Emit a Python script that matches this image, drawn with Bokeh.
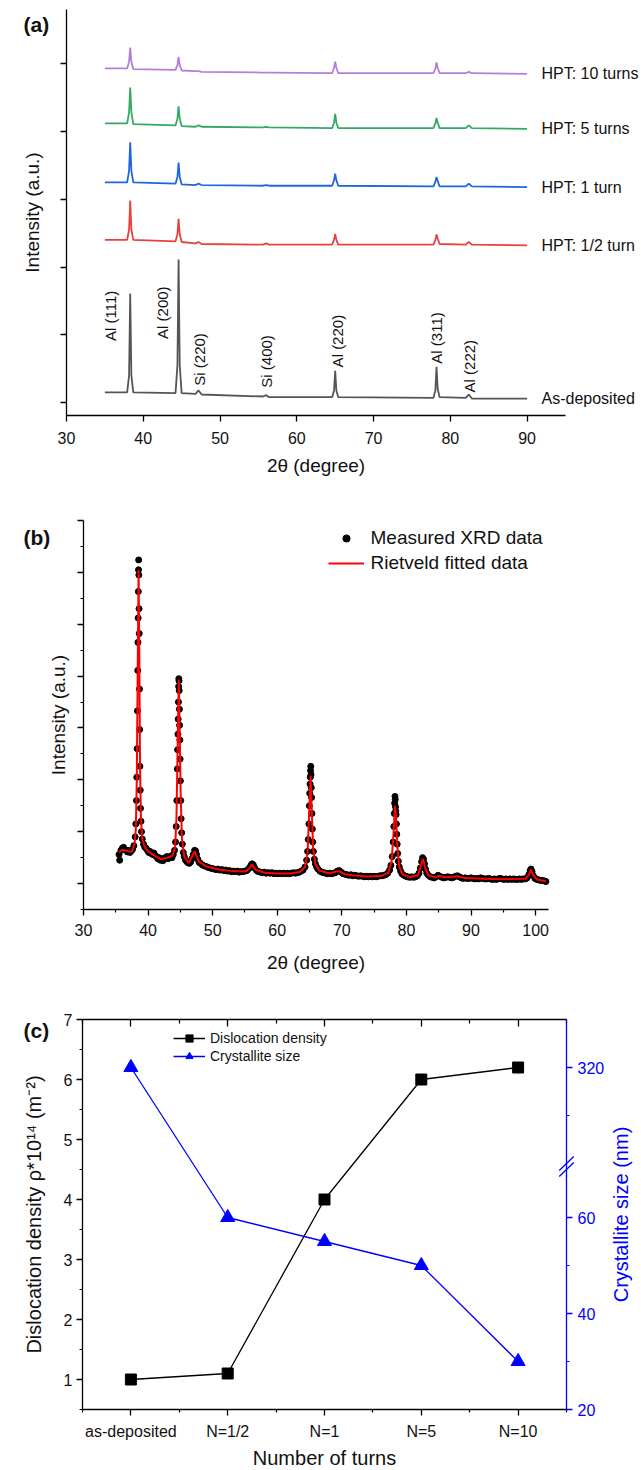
import math
from bokeh.plotting import figure
from bokeh.layouts import column
from bokeh.models import (Label, Legend, LegendItem, FixedTicker, LinearAxis,
                          Range1d, CustomJSTickFormatter, Arrow)
from bokeh.embed import file_html
from bokeh.resources import INLINE

FONT = "Liberation Sans"
TXT = "#111111"

# ------------------------------------------------------------------ (a) data
two_theta_a = [35.0, 37.9, 38.15, 38.3, 38.45, 38.7, 44.2, 44.45, 44.6, 44.75, 45.0,
               46.8, 47.2, 47.6, 55.6, 56.0, 56.4, 64.6, 64.85, 65.0, 65.15, 65.4,
               77.8, 78.05, 78.2, 78.35, 78.6, 82.0, 82.4, 82.8, 90.0]
int_as_deposited = [0.15, 0.15, 0.40, 1.61, 0.40, 0.15, 0.14, 0.55, 2.11, 0.55, 0.14,
                    0.13, 0.18, 0.12, 0.09, 0.11, 0.08, 0.08, 0.18, 0.47, 0.18, 0.08,
                    0.07, 0.18, 0.53, 0.20, 0.08, 0.07, 0.12, 0.06, 0.06]
int_hpt_half = [2.40, 2.40, 2.55, 2.98, 2.55, 2.40, 2.38, 2.48, 2.71, 2.48, 2.37,
                2.35, 2.37, 2.34, 2.33, 2.35, 2.33, 2.33, 2.40, 2.49, 2.40, 2.33,
                2.33, 2.40, 2.48, 2.42, 2.34, 2.33, 2.37, 2.33, 2.32]
int_hpt_1 = [3.25, 3.25, 3.42, 3.84, 3.42, 3.25, 3.23, 3.33, 3.54, 3.33, 3.22,
             3.21, 3.23, 3.21, 3.20, 3.21, 3.20, 3.20, 3.28, 3.38, 3.28, 3.20,
             3.19, 3.26, 3.33, 3.27, 3.19, 3.19, 3.23, 3.19, 3.18]
int_hpt_5 = [4.12, 4.12, 4.28, 4.65, 4.28, 4.11, 4.09, 4.19, 4.37, 4.19, 4.08,
             4.07, 4.09, 4.07, 4.06, 4.07, 4.06, 4.05, 4.13, 4.26, 4.13, 4.05,
             4.05, 4.12, 4.20, 4.13, 4.05, 4.05, 4.09, 4.05, 4.04]
int_hpt_10 = [4.93, 4.93, 5.03, 5.24, 5.03, 4.92, 4.91, 4.98, 5.10, 4.98, 4.90,
              4.89, 4.89, 4.88, 4.87, 4.87, 4.87, 4.86, 4.94, 5.03, 4.94, 4.86,
              4.86, 4.93, 5.02, 4.94, 4.86, 4.86, 4.88, 4.86, 4.85]
series_names_a = ["As-deposited", "HPT: 1/2 turn", "HPT: 1 turn", "HPT: 5 turns", "HPT: 10 turns"]
series_a = [int_as_deposited, int_hpt_half, int_hpt_1, int_hpt_5, int_hpt_10]
peak_names = ["Al (111)", "Al (200)", "Si (220)", "Si (400)", "Al (220)", "Al (311)", "Al (222)"]
xticks_a = [30, 40, 50, 60, 70, 80, 90]
yticks_a = [0, 1, 2, 3, 4, 5]

# ------------------------------------------------------------------ (b) data
meas_seg_a = [(35.5, 560), (35.6, 450), (35.8, 640), (36.0, 680), (36.2, 700), (36.4, 660),
              (36.6, 640), (36.8, 610), (37.0, 640), (37.2, 600), (37.4, 630), (37.6, 660),
              (37.8, 730), (38.0, 900), (38.1, 1150)]
meas_peak_1 = [(38.2, 1600), (38.25, 2050), (38.3, 2600), (38.35, 3330), (38.4, 4110),
               (38.43, 4650), (38.46, 5120), (38.49, 5630), (38.52, 6050), (38.54, 6240),
               (38.57, 5950), (38.6, 5300), (38.63, 4820), (38.67, 3750), (38.7, 2970),
               (38.74, 2260), (38.78, 1800), (38.83, 1450), (38.9, 1200), (38.98, 1000),
               (39.1, 860), (39.3, 760), (39.5, 700)]
meas_seg_b = [(39.7, 680), (39.9, 640), (40.1, 600), (40.3, 620), (40.5, 580), (40.7, 560),
              (40.9, 590), (41.1, 540), (41.3, 520), (41.5, 480), (41.7, 500), (41.9, 450),
              (42.1, 470), (42.3, 440), (42.5, 490), (42.7, 500), (42.9, 520), (43.1, 480),
              (43.3, 510), (43.5, 530), (43.7, 500), (43.9, 560), (44.1, 640), (44.25, 800)]
meas_peak_2 = [(44.35, 1100), (44.45, 1600), (44.52, 2210), (44.57, 2580), (44.62, 2880),
               (44.66, 3170), (44.7, 3500), (44.73, 3800), (44.76, 3950), (44.79, 3910),
               (44.82, 3720), (44.85, 3360), (44.88, 3050), (44.92, 2770), (44.96, 2400),
               (45.0, 1980), (45.06, 1600), (45.12, 1250), (45.2, 980), (45.3, 760),
               (45.45, 600), (45.6, 520)]
meas_seg_c = [(45.8, 450), (46.0, 420), (46.2, 400), (46.4, 390), (46.6, 420), (46.8, 480),
              (47.0, 560), (47.2, 640), (47.35, 630), (47.5, 560), (47.7, 470), (47.9, 410),
              (48.1, 390), (48.4, 360), (48.7, 340), (49.0, 330), (49.3, 310), (49.6, 300),
              (49.9, 290), (50.2, 280), (50.5, 270), (50.8, 280), (51.1, 260), (51.4, 270),
              (51.7, 250), (52.0, 260), (52.3, 240), (52.6, 250), (52.9, 230), (53.2, 240),
              (53.5, 230), (53.8, 240), (54.1, 220), (54.4, 230), (54.7, 230), (55.0, 240),
              (55.3, 250), (55.6, 290), (55.9, 350), (56.1, 380), (56.3, 360), (56.5, 300),
              (56.8, 250), (57.1, 230), (57.4, 220), (57.7, 210), (58.0, 220), (58.3, 200),
              (58.6, 210), (58.9, 200), (59.2, 210), (59.5, 190), (59.8, 200), (60.1, 190),
              (60.4, 200), (60.7, 190), (61.0, 200), (61.3, 190), (61.6, 200), (61.9, 190),
              (62.2, 200), (62.5, 210), (62.8, 200), (63.1, 210), (63.4, 220), (63.7, 240),
              (64.0, 260), (64.3, 320), (64.55, 450), (64.7, 620)]
meas_peak_3 = [(64.8, 850), (64.9, 1150), (64.97, 1500), (65.03, 1740), (65.08, 1920),
               (65.12, 2050), (65.16, 2180), (65.19, 2260), (65.23, 2100), (65.27, 1850),
               (65.32, 1660), (65.37, 1350), (65.43, 1050), (65.5, 800), (65.6, 620),
               (65.75, 470), (65.9, 380), (66.1, 320)]
meas_seg_d = [(66.3, 280), (66.6, 240), (66.9, 220), (67.2, 210), (67.5, 200), (67.8, 190),
              (68.1, 200), (68.4, 190), (68.7, 200), (69.0, 210), (69.3, 240), (69.6, 250),
              (69.9, 220), (70.2, 190), (70.5, 180), (70.8, 170), (71.1, 160), (71.4, 170),
              (71.7, 150), (72.0, 160), (72.3, 150), (72.6, 140), (72.9, 150), (73.2, 140),
              (73.5, 130), (73.8, 140), (74.1, 130), (74.4, 140), (74.7, 130), (75.0, 140),
              (75.3, 130), (75.6, 140), (75.9, 150), (76.2, 150), (76.5, 160), (76.8, 170),
              (77.1, 200), (77.4, 260), (77.6, 350), (77.8, 520)]
meas_peak_4 = [(77.95, 800), (78.05, 1100), (78.12, 1350), (78.18, 1550), (78.23, 1680),
               (78.27, 1620), (78.31, 1480), (78.35, 1400), (78.4, 1330), (78.45, 1150),
               (78.5, 950), (78.57, 760), (78.65, 580), (78.75, 430), (78.9, 320), (79.1, 240)]
meas_seg_e = [(79.3, 190), (79.6, 160), (79.9, 140), (80.2, 130), (80.5, 120), (80.8, 130),
              (81.1, 120), (81.4, 130), (81.7, 150), (81.95, 200), (82.15, 300), (82.35, 420),
              (82.5, 500), (82.65, 470), (82.8, 380), (82.95, 280), (83.15, 200), (83.4, 160),
              (83.7, 130), (84.0, 120), (84.3, 110), (84.6, 130), (84.9, 160), (85.2, 140),
              (85.5, 120), (85.8, 110), (86.1, 120), (86.4, 130), (86.7, 120), (87.0, 110),
              (87.3, 120), (87.6, 140), (87.9, 150), (88.2, 130), (88.5, 110), (88.8, 100),
              (89.1, 110), (89.4, 100), (89.7, 100), (90.0, 110), (90.3, 100), (90.6, 90),
              (90.9, 100), (91.2, 90), (91.5, 110), (91.8, 100), (92.1, 90), (92.4, 90),
              (92.7, 100), (93.0, 90), (93.3, 80), (93.6, 90), (93.9, 80), (94.2, 90),
              (94.5, 100), (94.8, 90), (95.1, 80), (95.4, 90), (95.7, 80), (96.0, 90),
              (96.3, 80), (96.6, 90), (96.9, 80), (97.2, 80), (97.5, 90), (97.8, 80),
              (98.1, 90), (98.4, 90), (98.7, 110), (98.95, 170), (99.15, 250), (99.3, 280),
              (99.45, 230), (99.65, 150), (99.9, 100), (100.2, 80), (100.5, 70), (100.8, 60),
              (101.1, 60), (101.4, 50), (101.6, 40)]
fit_x = [35.5, 36.0, 36.5, 37.0, 37.5, 37.9, 38.1, 38.25, 38.4, 38.53, 38.65, 38.75, 38.9,
         39.1, 39.5, 40.0, 41.0, 42.0, 43.0, 43.8, 44.2, 44.4, 44.6, 44.76, 44.9, 45.05,
         45.25, 45.6, 46.3, 47.2, 47.9, 49.0, 51.0, 53.0, 55.0, 55.6, 56.1, 56.6, 58.0,
         60.0, 62.0, 63.5, 64.3, 64.7, 64.95, 65.17, 65.35, 65.55, 65.9, 66.5, 68.0, 69.5,
         70.5, 72.0, 74.0, 76.0, 77.2, 77.7, 78.0, 78.22, 78.4, 78.6, 78.9, 79.4, 80.5,
         81.8, 82.2, 82.55, 82.9, 83.4, 84.5, 85.0, 86.0, 88.0, 89.0, 92.0, 95.0, 98.5,
         99.0, 99.3, 99.6, 100.2, 101.6]
fit_y = [600, 650, 640, 620, 620, 760, 1050, 2000, 4200, 6050, 4300, 2300, 1250,
         850, 700, 620, 540, 470, 500, 540, 720, 1300, 2800, 3930, 2900, 1700,
         850, 520, 400, 620, 420, 330, 270, 240, 235, 280, 370, 270, 210,
         195, 195, 225, 320, 600, 1400, 2080, 1400, 700, 380, 250, 200, 240,
         180, 155, 135, 145, 210, 420, 950, 1500, 1280, 700, 320, 180, 125,
         160, 330, 480, 300, 160, 120, 150, 120, 140, 105, 95, 85, 95,
         180, 270, 170, 80, 45]
measured_segments = [meas_seg_a, meas_peak_1, meas_seg_b, meas_peak_2, meas_seg_c,
                     meas_peak_3, meas_seg_d, meas_peak_4, meas_seg_e]
meas_x = [pt[0] for seg in measured_segments for pt in seg]
meas_y = [pt[1] for seg in measured_segments for pt in seg]
xticks_b = [30, 40, 50, 60, 70, 80, 90, 100]
xminor_b = [35, 45, 55, 65, 75, 85, 95]
yticks_b = [0, 1000, 2000, 3000, 4000, 5000, 6000, 7000]
yminor_b = [-500, 500, 1500, 2500, 3500, 4500, 5500, 6500]

# ------------------------------------------------------------------ (c) data
turns = ["as-deposited", "N=1/2", "N=1", "N=5", "N=10"]
dislocation_density = [1.0, 1.1, 4.0, 6.0, 6.2]
crystallite_size = [320, 60, 55, 50, 30]
yticks_c = [1, 2, 3, 4, 5, 6, 7]
size_ticks_lower = [20, 40, 60]
size_minor_lower = [30, 50]
size_ticks_upper = [320]
size_minor_upper = [310]

# broken right axis: lower segment 20..70.8 kept, upper segment shifted down
BREAK_LOW = 70.8
SHIFT = 228.75


def size_axis(v):
    return v if v <= BREAK_LOW else v - SHIFT


# ------------------------------------------------------------------ geometry helpers
def lin(v_a, p_a, v_b, p_b, p):
    return v_a + (p - p_a) * (v_b - v_a) / (p_b - p_a)


def style_axis(ax, tick_size="16px", label_size="19px", color="black", text_color=TXT):
    ax.axis_line_color = color
    ax.axis_line_width = 1.3
    ax.major_tick_line_color = color
    ax.major_tick_line_width = 1.3
    ax.minor_tick_line_color = color
    ax.minor_tick_line_width = 1.2
    ax.major_label_text_font = FONT
    ax.major_label_text_font_size = tick_size
    ax.major_label_text_color = text_color
    ax.axis_label_text_font = FONT
    ax.axis_label_text_font_size = label_size
    ax.axis_label_text_font_style = "normal"
    ax.axis_label_text_color = text_color


def base_fig(w, h, xr, yr):
    f = figure(width=w, height=h, x_range=xr, y_range=yr, output_backend="svg",
               toolbar_location=None, min_border=0, min_border_left=0,
               min_border_right=0, min_border_top=0, min_border_bottom=0)
    f.frame_align = False
    f.outline_line_color = None
    f.xgrid.visible = False
    f.ygrid.visible = False
    f.background_fill_color = "white"
    f.border_fill_color = "white"
    return f


def panel_label(f, text, x, y):
    f.add_layout(Label(x=x, y=y, text=text, text_font=FONT, text_font_size="21px",
                       text_font_style="bold", text_color=TXT, text_baseline="middle",
                       text_align="left"))


W = 641
# picture pixel geometry of each panel (y of figure top/bottom)
A_TOP, A_BOT = 0, 490
B_TOP, B_BOT = 490, 1000
C_TOP, C_BOT = 1000, 1468
PX_L, PX_R = 0, W

# ================================================================== (a)
ax_px = (30, 66, 95, 565)          # x value / pixel pairs of the axis ends
ay_px = (-0.19, 415, 5.80, 9)      # y value / pixel pairs of the axis ends
fa = base_fig(W, A_BOT - A_TOP,
              Range1d(lin(*ax_px, PX_L), lin(*ax_px, PX_R)),
              Range1d(lin(*ay_px, A_BOT), lin(*ay_px, A_TOP)))
colors_a = ["#555555", "#e8413e", "#1e66dc", "#35a865", "#b67ddc"]
for ys, c in zip(series_a, colors_a):
    fa.line(two_theta_a, ys, line_color=c, line_width=1.8)
for name, ys in zip(series_names_a, series_a):
    fa.add_layout(Label(x=lin(*ax_px, 541), y=ys[-1], text=name, text_font=FONT,
                        text_font_size="16px", text_color=TXT, text_baseline="middle",
                        text_align="left"))
peak_label_x = [35.7, 42.5, 47.3, 56.1, 65.3, 78.2, 82.5]
peak_label_y = [0.91, 0.94, 0.25, 0.22, 0.52, 0.575, 0.15]
for name, lx, ly in zip(peak_names, peak_label_x, peak_label_y):
    fa.add_layout(Label(x=lx, y=ly, text=name, angle=math.pi / 2, text_font=FONT,
                        text_font_size="15px", text_color=TXT, text_baseline="middle",
                        text_align="left"))
fa.xaxis.ticker = FixedTicker(ticks=xticks_a, minor_ticks=[])
fa.yaxis.ticker = FixedTicker(ticks=yticks_a, minor_ticks=[])
fa.yaxis.major_label_overrides = {t: "" for t in yticks_a}
for ax in fa.xaxis + fa.yaxis:
    style_axis(ax)
    ax.major_tick_out = 6
    ax.major_tick_in = 0
    ax.minor_tick_out = 0
    ax.minor_tick_in = 0
fa.xaxis.fixed_location = ay_px[0]
fa.xaxis.bounds = (ax_px[0], ax_px[2])
fa.yaxis.fixed_location = ax_px[0]
fa.yaxis.bounds = (ay_px[0], ay_px[2])
fa.xaxis.axis_label = "2θ (degree)"
fa.xaxis.major_label_standoff = 10
fa.xaxis.axis_label_standoff = 8
fa.yaxis.axis_label = "Intensity (a.u.)"
fa.yaxis.major_label_standoff = 0
fa.yaxis.axis_label_standoff = 18
panel_label(fa, "(a)", lin(*ax_px, 23), lin(*ay_px, 24))

# ================================================================== (b)
bx_px = (30, 83, 102, 548)
by_px = (-500, 909, 7000, 520)
fb = base_fig(W, B_BOT - B_TOP,
              Range1d(lin(*bx_px, PX_L), lin(*bx_px, PX_R)),
              Range1d(lin(*by_px, B_BOT), lin(*by_px, B_TOP)))
r_meas = fb.scatter(meas_x, meas_y, size=6, fill_color="black", line_color="black")
r_fit = fb.line(fit_x, fit_y, line_color="#ff0000", line_width=2)
fb.xaxis.ticker = FixedTicker(ticks=xticks_b, minor_ticks=xminor_b)
fb.yaxis.ticker = FixedTicker(ticks=yticks_b, minor_ticks=yminor_b)
fb.yaxis.major_label_overrides = {t: "" for t in yticks_b}
for ax in fb.xaxis + fb.yaxis:
    style_axis(ax)
    ax.major_tick_out = 6
    ax.major_tick_in = 0
    ax.minor_tick_out = 3
    ax.minor_tick_in = 0
fb.xaxis.fixed_location = by_px[0]
fb.xaxis.bounds = (bx_px[0], bx_px[2])
fb.yaxis.fixed_location = bx_px[0]
fb.yaxis.bounds = (by_px[0], by_px[2])
fb.xaxis.axis_label = "2θ (degree)"
fb.xaxis.major_label_standoff = 8
fb.xaxis.axis_label_standoff = 13
fb.yaxis.axis_label = "Intensity (a.u.)"
fb.yaxis.major_label_standoff = 0
fb.yaxis.axis_label_standoff = 9
leg_b = Legend(items=[LegendItem(label="Measured XRD data", renderers=[r_meas]),
                      LegendItem(label="Rietveld fitted data", renderers=[r_fit])],
               location=(327.5 - PX_L, B_BOT - 575.5), orientation="vertical",
               padding=0, margin=0, spacing=0, glyph_width=36, glyph_height=18,
               label_height=25, label_standoff=7, border_line_alpha=0,
               background_fill_alpha=0, label_text_font=FONT,
               label_text_font_size="19px", label_text_color=TXT)
fb.add_layout(leg_b)
panel_label(fb, "(b)", lin(*bx_px, 23), lin(*by_px, 537))

# ================================================================== (c)
cat_pos = list(range(1, len(turns) + 1))
x_lo, x_hi = cat_pos[0] - 0.5, cat_pos[-1] + 0.5
cx_px = (x_lo, 82, x_hi, 566)
cy_px = (0.5, 1409, 7, 1019)
cs_px = (20, 1409, 60, 1217)       # crystallite-size (display) axis
fc = base_fig(W, C_BOT - C_TOP,
              Range1d(lin(*cx_px, PX_L), lin(*cx_px, PX_R)),
              Range1d(lin(*cy_px, C_BOT), lin(*cy_px, C_TOP)))
fc.extra_y_ranges = {"size": Range1d(lin(*cs_px, C_BOT), lin(*cs_px, C_TOP))}
size_t = [size_axis(v) for v in crystallite_size]

r_d_line = fc.line(cat_pos, dislocation_density, line_color="black", line_width=1.3)
r_d_pts = fc.scatter(cat_pos, dislocation_density, marker="square", size=11,
                     fill_color="black", line_color="black")
r_s_line = fc.line(cat_pos, size_t, line_color="#0000ff", line_width=1.3, y_range_name="size")
r_s_pts = fc.scatter(cat_pos, size_t, marker="triangle", size=14, fill_color="#0000ff",
                     line_color="#0000ff", y_range_name="size")

half_pos = [p - 0.5 for p in cat_pos] + [x_hi]
fc.xaxis.ticker = FixedTicker(ticks=cat_pos, minor_ticks=half_pos)
fc.xaxis.major_label_overrides = {p: t for p, t in zip(cat_pos, turns)}
fc.yaxis.ticker = FixedTicker(ticks=yticks_c, minor_ticks=[t - 0.5 for t in yticks_c])
for ax in fc.xaxis + fc.yaxis:
    style_axis(ax, tick_size="16px", label_size="20px")
    ax.major_tick_out = 6
    ax.major_tick_in = 0
    ax.minor_tick_out = 3
    ax.minor_tick_in = 0
fc.xaxis.fixed_location = cy_px[0]
fc.xaxis.bounds = (x_lo, x_hi)
fc.yaxis.fixed_location = x_lo
fc.yaxis.bounds = (cy_px[0], cy_px[2])
fc.xaxis.axis_label = "Number of turns"
fc.xaxis.major_label_standoff = 7
fc.xaxis.axis_label_standoff = 4
fc.yaxis.axis_label = "Dislocation density ρ*10¹⁴ (m⁻²)"
fc.yaxis.major_label_standoff = 4
fc.yaxis.axis_label_standoff = 16

top_ax = LinearAxis(ticker=FixedTicker(ticks=cat_pos, minor_ticks=half_pos),
                    major_label_overrides={p: "" for p in cat_pos})
style_axis(top_ax)
top_ax.major_tick_in = 7
top_ax.major_tick_out = 0
top_ax.minor_tick_in = 4
top_ax.minor_tick_out = 0
top_ax.major_label_standoff = 0
top_ax.fixed_location = cy_px[2]
top_ax.bounds = (x_lo, x_hi)
fc.add_layout(top_ax, "above")

size_top = lin(*cs_px, cy_px[3])
right_ax = LinearAxis(
    y_range_name="size",
    ticker=FixedTicker(ticks=size_ticks_lower + [size_axis(v) for v in size_ticks_upper],
                       minor_ticks=size_minor_lower + [size_axis(v) for v in size_minor_upper]),
    formatter=CustomJSTickFormatter(args=dict(brk=BREAK_LOW, shift=SHIFT),
                                    code="return (tick > brk ? tick + shift : tick).toFixed(0)"))
style_axis(right_ax, tick_size="16px", label_size="20px", color="#0000ff", text_color="#0000ff")
right_ax.major_tick_out = 6
right_ax.major_tick_in = 0
right_ax.minor_tick_out = 3
right_ax.minor_tick_in = 0
right_ax.major_label_standoff = 5
right_ax.fixed_location = x_hi
right_ax.bounds = (cs_px[0], size_top)
fc.add_layout(right_ax, "right")
# right-axis title, reading bottom-to-top like the reference
fc.add_layout(Label(x=lin(*cx_px, 620), y=lin(*cy_px, (cy_px[1] + cy_px[3]) / 2),
                    text="Crystallite size (nm)", angle=math.pi / 2, text_font=FONT,
                    text_font_size="20px", text_color="#0000ff", text_align="center",
                    text_baseline="middle"))

# break marks on the right axis
for yc in (BREAK_LOW + 0.45, BREAK_LOW - 0.8):
    fc.add_layout(Arrow(end=None, x_start=x_hi - 0.075, y_start=yc - 1.45,
                        x_end=x_hi + 0.075, y_end=yc + 1.45,
                        line_color="#0000ff", line_width=1.3, y_range_name="size"))

leg_c = Legend(items=[LegendItem(label="Dislocation density", renderers=[r_d_line, r_d_pts]),
                      LegendItem(label="Crystallite size", renderers=[r_s_line, r_s_pts])],
               location=(173 - PX_L, C_BOT - 1065), orientation="vertical", padding=0,
               margin=0, spacing=0, glyph_width=32, glyph_height=18, label_height=18,
               label_standoff=5, border_line_alpha=0, background_fill_alpha=0,
               label_text_font=FONT, label_text_font_size="14px", label_text_color=TXT)
fc.add_layout(leg_c)
panel_label(fc, "(c)", lin(*cx_px, 23), lin(*cy_px, 1030))

layout = column(fa, fb, fc)
open("out.html", "w").write(file_html(layout, INLINE))
